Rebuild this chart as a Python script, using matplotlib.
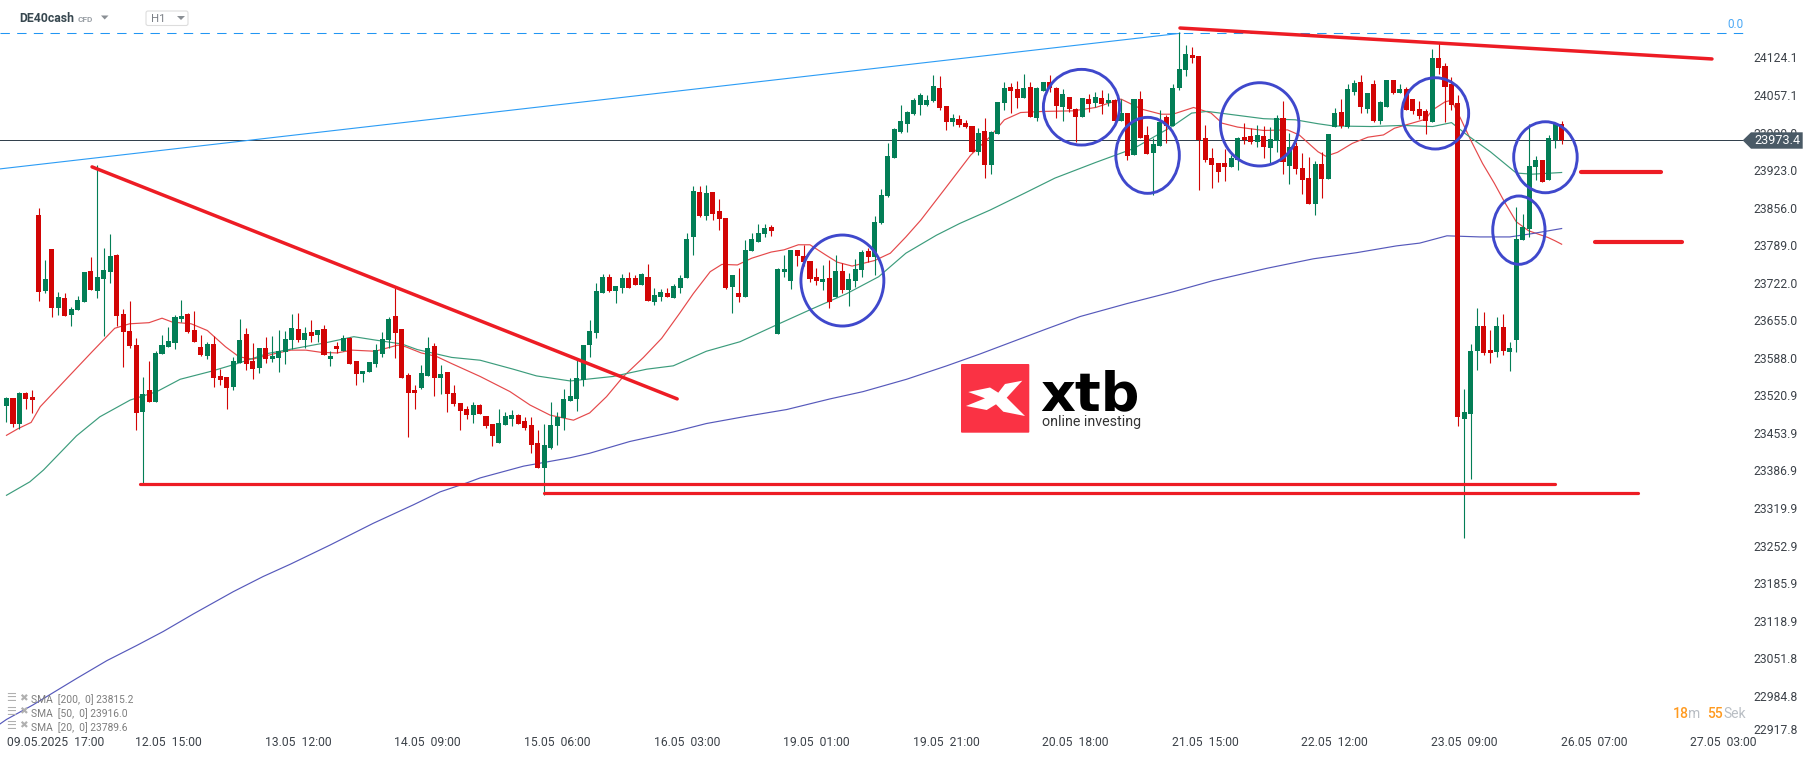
import matplotlib
matplotlib.use("Agg")
import matplotlib.pyplot as plt
from matplotlib.patches import Ellipse, Polygon, FancyBboxPatch
from matplotlib.transforms import Affine2D
import numpy as np

plt.rcParams["font.family"] = ["Roboto", "DejaVu Sans"]

# candles, one value per hourly bar
opens = [
    23499, 23514, 23467, 23522, 23515, 23840, 23704, 23779, 23674, 23692,
    23662, 23670, 23685, 23740, 23704, 23726, 23738, 23769, 23663, 23633,
    23608, 23489, 23528, 23506, 23592, 23605, 23612, 23654, 23663, 23635,
    23605, 23588, 23610, 23553, 23551, 23533, 23576, 23628, 23580, 23567,
    23603, 23583, 23585, 23596, 23617, 23637, 23617, 23631, 23626, 23637,
    23583, 23606, 23597, 23621, 23580, 23556, 23560, 23574, 23592, 23617,
    23660, 23637, 23555, 23528, 23531, 23553, 23606, 23549, 23560, 23522,
    23505, 23494, 23483, 23501, 23481, 23467, 23433, 23465, 23476, 23483,
    23472, 23465, 23433, 23389, 23424, 23464, 23478, 23508, 23512, 23546,
    23608, 23630, 23701, 23729, 23704, 23710, 23728, 23728, 23715, 23729,
    23685, 23694, 23701, 23692, 23710, 23728, 23801, 23881, 23838, 23881,
    23847, 23835, 23712, 23701, 23694, 23776, 23792, 23806, 23819, 23628,
    23738, 23722, 23778, 23767, 23758, 23729, 23721, 23728, 23694, 23740,
    23706, 23722, 23742, 23776, 23765, 23826, 23874, 23942, 23988, 24003,
    24020, 24036, 24036, 24044, 24067, 24035, 24006, 24011, 24004, 23999,
    23953, 23990, 23929, 23985, 24040, 24069, 24065, 24049, 24069, 24013,
    24061, 24077, 24067, 24033, 24051, 24029, 24015, 24047, 24040, 24049,
    24040, 24045, 24008, 24022, 23947, 24047, 23983, 23951, 23963, 24015,
    23999, 24067, 24099, 24126, 24124, 23978, 23942, 23933, 23933, 23926,
    23938, 23979, 23981, 23970, 23981, 23960, 23972, 24013, 23928, 23963,
    23924, 23906, 23860, 23931, 23904, 23997, 24024, 23997, 24060, 24078,
    24029, 24074, 24008, 24033, 24081, 24058, 24065, 24047, 24029, 24026,
    24006, 24120, 24106, 24074, 24040, 23476, 23485, 23597, 23642, 23599,
    23596, 23640, 23596, 23617, 23796, 23815, 23926, 23938, 23903, 23974, 24003,
]
highs = [
    23515, 23514, 23524, 23524, 23528, 23853, 23760, 23779, 23703, 23701,
    23676, 23695, 23738, 23765, 23929, 23781, 23807, 23770, 23672, 23687,
    23621, 23551, 23580, 23597, 23626, 23640, 23662, 23688, 23665, 23669,
    23626, 23613, 23624, 23565, 23551, 23587, 23654, 23638, 23612, 23603,
    23622, 23624, 23635, 23633, 23663, 23665, 23640, 23653, 23635, 23644,
    23597, 23613, 23626, 23622, 23580, 23562, 23578, 23610, 23631, 23658,
    23710, 23637, 23558, 23537, 23572, 23622, 23612, 23572, 23560, 23537,
    23505, 23499, 23506, 23503, 23481, 23467, 23494, 23489, 23492, 23485,
    23480, 23480, 23456, 23467, 23506, 23489, 23530, 23549, 23581, 23609,
    23653, 23719, 23735, 23735, 23713, 23735, 23738, 23733, 23737, 23753,
    23710, 23708, 23710, 23717, 23733, 23808, 23892, 23892, 23894, 23881,
    23869, 23835, 23733, 23746, 23796, 23808, 23824, 23824, 23822, 23746,
    23769, 23778, 23778, 23787, 23758, 23746, 23751, 23760, 23769, 23754,
    23737, 23762, 23778, 23781, 23838, 23887, 23969, 23995, 24036, 24026,
    24049, 24058, 24054, 24090, 24088, 24035, 24020, 24019, 24010, 23999,
    23995, 24013, 23990, 24042, 24077, 24076, 24079, 24092, 24077, 24069,
    24077, 24090, 24069, 24065, 24051, 24031, 24049, 24056, 24060, 24063,
    24058, 24047, 24047, 24022, 24047, 24061, 23999, 23978, 24028, 24019,
    24074, 24167, 24144, 24140, 24124, 24001, 23960, 23933, 23958, 23947,
    23979, 24004, 23995, 24001, 23999, 23997, 24019, 24044, 23987, 23970,
    23951, 23944, 23937, 23953, 23985, 24031, 24047, 24074, 24081, 24090,
    24058, 24081, 24044, 24081, 24081, 24074, 24069, 24047, 24044, 24029,
    24136, 24147, 24111, 24086, 24054, 23530, 23610, 23674, 23667, 23635,
    23658, 23664, 23614, 23854, 23842, 24003, 23945, 23938, 23983, 24003, 24008,
]
lows = [
    23471, 23461, 23458, 23494, 23487, 23687, 23701, 23658, 23662, 23660,
    23642, 23670, 23685, 23706, 23692, 23624, 23719, 23642, 23569, 23603,
    23456, 23361, 23506, 23506, 23592, 23605, 23601, 23649, 23630, 23613,
    23588, 23583, 23533, 23537, 23494, 23528, 23576, 23563, 23547, 23558,
    23576, 23578, 23560, 23574, 23601, 23613, 23603, 23613, 23613, 23590,
    23571, 23594, 23597, 23574, 23537, 23542, 23560, 23569, 23587, 23603,
    23585, 23549, 23444, 23494, 23530, 23553, 23517, 23521, 23489, 23499,
    23456, 23476, 23469, 23485, 23460, 23428, 23433, 23465, 23464, 23467,
    23456, 23415, 23389, 23340, 23423, 23430, 23456, 23508, 23490, 23535,
    23587, 23621, 23701, 23703, 23683, 23701, 23710, 23715, 23715, 23687,
    23680, 23687, 23694, 23692, 23701, 23728, 23769, 23836, 23831, 23831,
    23813, 23708, 23665, 23685, 23694, 23776, 23792, 23801, 23803, 23628,
    23729, 23708, 23749, 23749, 23721, 23715, 23706, 23674, 23694, 23701,
    23678, 23712, 23729, 23756, 23733, 23824, 23872, 23942, 23986, 23988,
    24019, 24019, 24035, 24042, 24027, 23992, 23999, 23997, 23995, 23953,
    23947, 23906, 23913, 23985, 24027, 24022, 24031, 24049, 24015, 24008,
    24061, 24060, 24013, 24008, 24024, 23970, 24015, 24024, 24033, 24020,
    24035, 24008, 24008, 23938, 23947, 23978, 23949, 23876, 23963, 23969,
    23999, 24063, 24088, 24111, 23885, 23935, 23888, 23899, 23901, 23926,
    23920, 23967, 23967, 23962, 23942, 23933, 23953, 23913, 23896, 23913,
    23878, 23860, 23840, 23871, 23904, 23997, 23995, 23995, 24054, 24022,
    24022, 24006, 24003, 24033, 24056, 24058, 24028, 24020, 24011, 23985,
    24006, 24092, 24006, 24028, 23464, 23264, 23369, 23564, 23590, 23576,
    23587, 23590, 23562, 23596, 23796, 23801, 23903, 23899, 23903, 23960, 23967,
]
closes = [
    23514, 23468, 23522, 23512, 23510, 23703, 23726, 23674, 23694, 23660,
    23672, 23688, 23738, 23706, 23729, 23742, 23767, 23660, 23631, 23606,
    23487, 23521, 23506, 23594, 23608, 23615, 23658, 23660, 23631, 23613,
    23590, 23610, 23549, 23546, 23531, 23580, 23617, 23574, 23565, 23603,
    23583, 23588, 23597, 23619, 23638, 23617, 23630, 23624, 23635, 23590,
    23588, 23601, 23621, 23574, 23556, 23562, 23578, 23599, 23619, 23654,
    23630, 23549, 23522, 23522, 23558, 23603, 23549, 23556, 23521, 23503,
    23490, 23483, 23501, 23485, 23464, 23446, 23469, 23481, 23483, 23467,
    23460, 23430, 23389, 23430, 23465, 23480, 23512, 23517, 23549, 23608,
    23633, 23704, 23729, 23704, 23713, 23728, 23710, 23715, 23735, 23687,
    23697, 23703, 23694, 23713, 23728, 23797, 23883, 23838, 23879, 23842,
    23833, 23710, 23733, 23694, 23778, 23797, 23808, 23817, 23812, 23744,
    23744, 23778, 23767, 23756, 23726, 23722, 23726, 23685, 23740, 23706,
    23726, 23744, 23774, 23765, 23828, 23876, 23945, 23994, 24008, 24024,
    24045, 24054, 24045, 24070, 24031, 24006, 24013, 24001, 23997, 23953,
    23986, 23929, 23988, 24042, 24067, 24061, 24049, 24067, 24015, 24067,
    24077, 24067, 24035, 24056, 24029, 24015, 24049, 24038, 24051, 24038,
    24045, 24008, 24022, 23945, 24047, 23978, 23949, 23967, 24006, 23999,
    24067, 24101, 24127, 24120, 23974, 23938, 23929, 23917, 23926, 23942,
    23978, 23974, 23970, 23983, 23962, 23976, 24013, 23935, 23962, 23922,
    23903, 23860, 23931, 23904, 23985, 24022, 23999, 24065, 24076, 24033,
    24058, 24008, 24042, 24081, 24058, 24065, 24028, 24026, 24017, 24008,
    24120, 24102, 24069, 24036, 23480, 23489, 23597, 23642, 23594, 23594,
    23642, 23597, 23603, 23797, 23819, 23928, 23938, 23899, 23978, 24003, 23974,
]

# moving averages, sampled at the bar positions where they bend
sma20_x = [0, 1.8, 3.8, 5.2, 9.6, 13.2, 16.7, 19, 22, 24, 25.6, 28.5, 31, 33.8, 35.9, 38,
           41.5, 43.9, 46.2, 48.6, 51, 53.3, 56.9, 60.4, 61.6, 64, 66.3, 68.7, 73.1, 77.7,
           80.8, 83.9, 87.5, 90, 92.6, 95.2, 98.3, 101.1, 103.9, 106, 108.6, 110.4, 112.8,
           115, 118, 120, 122.2, 124, 126.4, 128.2, 130.5, 134, 136.4, 138.8, 141.1, 144.7,
           148.8, 151.8, 154, 156.5, 160, 164.6, 168.1, 172, 175.2, 178.2, 180, 183.2, 185.9,
           187.6, 190, 194, 197.7, 199.5, 202.4, 203.6, 205.4, 207.7, 210.1, 212.5, 214.2,
           219, 220, 222, 223, 224.5, 226, 227.8, 229.6, 231.3, 233, 234.9, 237.9, 239, 240]
sma20_y = [23447, 23459, 23470, 23498, 23552, 23596, 23638, 23646, 23648, 23656, 23649, 23646,
           23634, 23605, 23587, 23583, 23593, 23599, 23599, 23595, 23594, 23599, 23597, 23608,
           23605, 23594, 23588, 23575, 23552, 23525, 23501, 23483, 23474, 23487, 23516, 23552,
           23586, 23620, 23665, 23700, 23739, 23752, 23751, 23763, 23774, 23778, 23787, 23787,
           23769, 23756, 23749, 23759, 23772, 23801, 23831, 23885, 23947, 23980, 24010, 24023,
           24025, 24026, 24032, 24047, 24029, 24020, 24020, 24032, 24022, 24004, 23997, 23991,
           23992, 23983, 23953, 23945, 23952, 23968, 23979, 23983, 23995, 24011, 24027, 24042,
           24045, 24010, 23973, 23932, 23897, 23861, 23828, 23812, 23800, 23794, 23788]
sma50_x = [0, 3.6, 5.7, 10.8, 14.4, 19.1, 23.2, 26.8, 31.5, 35.6, 40.3, 44.5, 49.2, 53.6, 56.9,
           61, 63.4, 68.7, 73.1, 78.2, 81.8, 87, 93.6, 98.8, 102.9, 108, 113.2, 119.4, 124,
           129.7, 134.6, 138.8, 143.5, 147.1, 151.8, 157.1, 161.8, 168.1, 174, 180, 182.9, 185.3,
           189.3, 194, 198.9, 202.4, 204.8, 210.7, 215.4, 220.1, 223, 225.4, 229, 233, 235.5, 240]
sma50_y = [23340, 23364, 23385, 23446, 23480, 23510, 23525, 23547, 23561, 23575, 23593,
           23602, 23612, 23623, 23617, 23610, 23600, 23586, 23581, 23565, 23553, 23544, 23552,
           23565, 23571, 23597, 23614, 23647, 23671, 23700, 23730, 23772, 23804, 23825, 23849,
           23879, 23906, 23934, 23959, 23999, 24022, 24025, 24019, 24012, 24010, 24003, 23999,
           23998, 24000, 23998, 24005, 23983, 23953, 23915, 23913, 23916]
sma200_x = [-1, 0, 4.1, 10.8, 15.5, 20.1, 24.2, 28.8, 35, 39.6, 43.8, 49.9, 56.6, 62.8, 66.9, 71,
            73.1, 79.8, 87, 90, 96.2, 102.9, 108, 114.2, 120.4, 127.1, 132.2, 138.9, 145.1, 150.2,
            160.3, 165.7, 172.9, 180, 186.2, 194.5, 201.7, 208.4, 214.5, 218.1, 222.3, 227.4, 232,
            235.5, 240]
sma200_y = [22932, 22940, 22966, 23013, 23045, 23072, 23097, 23128, 23168, 23195, 23217, 23251,
            23290, 23323, 23346, 23362, 23371, 23392, 23407, 23415, 23436, 23453, 23468, 23481,
            23493, 23512, 23525, 23547, 23571, 23592, 23636, 23659, 23682, 23703, 23723, 23745,
            23762, 23773, 23785, 23790, 23803, 23801, 23801, 23807, 23816]

# axis ticks
price_ticks = [24124.1, 24057.1, 23990.0, 23923.0, 23856.0, 23789.0, 23722.0, 23655.0, 23588.0,
               23520.9, 23453.9, 23386.9, 23319.9, 23252.9, 23185.9, 23118.9, 23051.8, 22984.8,
               22917.8]
time_ticks = [7.6, 25, 45, 65, 85, 105, 125, 145, 165, 185, 205, 225, 245, 265]
time_labels = ["09.05.2025  17:00", "12.05  15:00", "13.05  12:00", "14.05  09:00", "15.05  06:00",
               "16.05  03:00", "19.05  01:00", "19.05  21:00", "20.05  18:00", "21.05  15:00",
               "22.05  12:00", "23.05  09:00", "26.05  07:00", "27.05  03:00"]
last_price = 23973.4
fibo_price = 24164.3

# hand drawn trend lines: (bar, price) to (bar, price)
red_lines = [
    ((13.2, 23926), (103.5, 23512), 2.5),
    ((181.1, 24173.8), (263.2, 24118.6), 2.5),
    ((20.6, 23359.6), (239, 23359.6), 2.3),
    ((83, 23343.5), (251.8, 23343.5), 2.3),
    ((243, 23916), (255.3, 23916), 3.0),
    ((245.1, 23791.4), (258.5, 23791.4), 3.0),
]
# circles: bar, price, width in bars, height in price
circles = [
    (129.0, 23723.2, 12.8, 162.4),
    (165.9, 24032.5, 11.76, 135.0),
    (176.1, 23946.6, 9.8, 135.6),
    (193.4, 24001.9, 12.1, 148.6),
    (220.5, 24021.5, 10.3, 127.2),
    (237.5, 23943.2, 9.8, 126.7),
    (233.4, 23813.1, 8.07, 121.9),
]

GREEN = "#037e56"
RED = "#d20505"
TEXT = "#3c4249"

fig = plt.figure(figsize=(18.15, 7.59), dpi=100)
ax = fig.add_axes([0, 0, 1, 1])
ax.set_xlim(-1.003, 279.1)
ax.set_ylim(22869.4, 24223.8)
for s in ax.spines.values():
    s.set_visible(False)

# pixels from the top left corner, for the bits of terminal chrome
px = Affine2D().scale(1, -1).translate(0, 759)

opens_a, closes_a = np.array(opens), np.array(closes)
idx = np.arange(len(opens))
colors = np.where(closes_a >= opens_a, GREEN, RED)
ax.plot(sma20_x, sma20_y, color="#e5484a", lw=0.85, zorder=2)
ax.plot(sma50_x, sma50_y, color="#3c9c7c", lw=0.85, zorder=2)
ax.plot(sma200_x, sma200_y, color="#5659bb", lw=0.85, zorder=2)
ax.axhline(last_price, xmax=1745 / 1815, color="#33414d", lw=0.72, zorder=1.8, snap=True)
ax.vlines(idx, lows, highs, colors=colors, lw=0.8, zorder=3)
ax.bar(idx, np.abs(closes_a - opens_a), bottom=np.minimum(opens_a, closes_a), width=0.78,
       color=colors, zorder=3.1, linewidth=0)

# fibo level and the rising line into it
ax.plot([-1.003, 268.6], [fibo_price, fibo_price], color="#2196f3", lw=0.75,
        linestyle=(0, (9, 7)), zorder=2)
ax.plot([-1.003, 181.1], [23922.4, fibo_price], color="#2b9cf5", lw=0.8, zorder=2)

for (x0, y0), (x1, y1), lw in red_lines:
    ax.plot([x0, x1], [y0, y1], color="#ed1c24", lw=lw, solid_capstyle="round", zorder=4)
for cx, cy, w, h in circles:
    ax.add_patch(Ellipse((cx, cy), w, h, fill=False, ec="#3f48cc", lw=2.1, zorder=5))

ax.set_xticks(time_ticks)
ax.set_xticklabels(time_labels)
ax.set_yticks(price_ticks)
ax.set_yticklabels([f"{p:.1f}" for p in price_ticks])
ax.yaxis.tick_right()
ax.tick_params(axis="y", length=0, pad=-44.6, labelsize=8.7, labelcolor=TEXT)
ax.tick_params(axis="x", length=0, pad=-16.6, labelsize=8.7, labelcolor=TEXT)
# the terminal draws its price labels a touch low, the bottom one pushed back up
for lab, p in zip(ax.yaxis.get_ticklabels(), price_ticks):
    shift = 2.5 if p == price_ticks[-1] else -1.5
    lab.set_transform(lab.get_transform() + Affine2D().translate(0, shift))

# last price flag
ax.add_patch(Polygon([(1742.7, 140.4), (1751, 132.3), (1802.7, 132.3), (1802.7, 148.7), (1751, 148.7)],
                     closed=True, transform=px, color="#4a5a66", lw=0, zorder=6, clip_on=False))
ax.text(1777, 140.8, "23973.4", transform=px, color="white", fontsize=9.1, ha="center",
        va="center", zorder=7)
ax.text(1735, 24.3, "0.0", transform=px, color="#4aa8f5", fontsize=8.4, ha="center", va="center")

# header
ax.text(19.5, 19, "DE40cash", transform=px, color="#37474f", fontsize=8.8, fontweight="bold", va="center")
ax.text(78, 19.5, "CFD", transform=px, color="#9aa0a6", fontsize=6, fontweight="bold", va="center")
ax.add_patch(Polygon([(101, 15.5), (108.5, 15.5), (104.7, 19.5)], transform=px, color="#8a8f94", lw=0))
ax.add_patch(FancyBboxPatch((146, 11), 42, 14.5, boxstyle="round,pad=0,rounding_size=2", transform=px,
                            fc="white", ec="#dddddd", lw=0.8))
ax.text(151, 19.5, "H1", transform=px, color="#7b8086", fontsize=8.2, va="center")
ax.add_patch(Polygon([(177, 16), (185, 16), (181, 20)], transform=px, color="#8a8f94", lw=0))

# indicator legend
legend_rows = [(700, "SMA  [200,  0] 23815.2"), (713.7, "SMA  [50,  0] 23916.0"), (727.7, "SMA  [20,  0] 23789.6")]
for y, label in legend_rows:
    ax.text(31, y, label, transform=px, color="#7d7d7d", fontsize=7.4, va="center", zorder=6)
    ax.text(6, y - 2, "\u2630", transform=px, color="#b0b0b0", fontsize=8, va="center",
            family=["DejaVu Sans"], zorder=6)
    ax.text(19, y - 2, "\u2716", transform=px, color="#b0b0b0", fontsize=7.5, va="center",
            family=["DejaVu Sans"], zorder=6)

# countdown
ax.text(1673, 714, "18", transform=px, color="#ff9a1f", fontsize=10, fontweight="medium", va="center")
ax.text(1688, 714, "m", transform=px, color="#b9bec4", fontsize=10, va="center")
ax.text(1707, 714, "55", transform=px, color="#ff9a1f", fontsize=10, fontweight="medium", va="center")
ax.text(1723, 714, "Sek", transform=px, color="#b9bec4", fontsize=10, va="center")

# xtb logo
ax.add_patch(FancyBboxPatch((961, 364), 68.3, 68.7, boxstyle="round,pad=0,rounding_size=1", transform=px,
                            fc="#fa3244", ec="none", zorder=6))
x_mark = [(968.3, 392), (990, 387.5), (998.3, 392.7), (1005, 384), (1022.3, 380.7), (1006.7, 397.7),
          (1025, 416), (1003.3, 411.7), (996, 404.3), (986.7, 410), (966, 406), (985, 398.3)]
ax.add_patch(Polygon(x_mark, closed=True, transform=px, color="white", lw=0, zorder=6.5))
ax.text(1040, 410.7, "xtb", transform=px, color="black", fontsize=39, fontweight="bold", va="baseline",
        family=["DejaVu Sans"], zorder=6)
ax.text(1041.5, 421.7, "online investing", transform=px, color="#333333", fontsize=10.3,
        va="center", zorder=6)

fig.savefig("out.png", dpi=100, facecolor="white")
